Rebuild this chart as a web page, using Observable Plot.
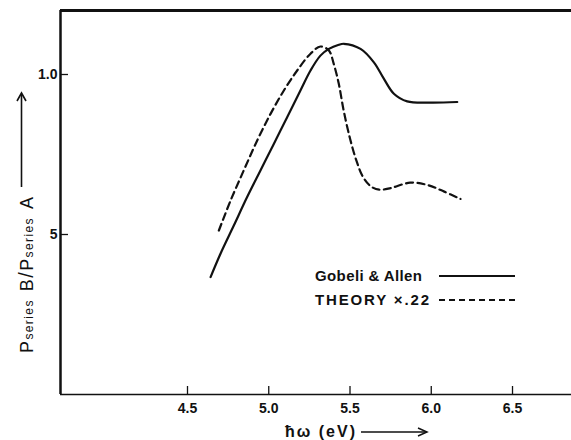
<!DOCTYPE html>
<html>
<head>
<meta charset="utf-8">
<script src="https://cdn.jsdelivr.net/npm/d3@7"></script>
<script src="https://cdn.jsdelivr.net/npm/@observablehq/plot@0.6"></script>
<style>
  html, body { margin: 0; padding: 0; background: #fff; }
  #chart { width: 571px; height: 440px; }
</style>
</head>
<body>
<div id="chart"></div>
<script>
// Gobeli & Allen (measured), solid
const gaX = [4.642, 4.703, 4.785, 4.867, 4.949, 5.031, 5.114, 5.195, 5.257, 5.318, 5.37, 5.431, 5.462, 5.565, 5.647, 5.708, 5.77, 5.852, 5.995, 6.16];
const gaY = [0.367, 0.440, 0.528, 0.617, 0.700, 0.783, 0.867, 0.950, 1.0125, 1.059, 1.080, 1.093, 1.096, 1.080, 1.038, 0.987, 0.940, 0.916, 0.912, 0.914];
// Theory x .22, dashed
const thX = [4.693, 4.765, 4.846, 4.929, 5.011, 5.093, 5.175, 5.257, 5.318, 5.37, 5.40, 5.431, 5.46, 5.50, 5.54, 5.58, 5.63, 5.68, 5.75, 5.87, 5.975, 6.08, 6.18];
const thY = [0.5125, 0.606, 0.700, 0.794, 0.877, 0.950, 1.0125, 1.065, 1.0875, 1.075, 1.033, 0.971, 0.89, 0.80, 0.73, 0.68, 0.65, 0.64, 0.645, 0.662, 0.655, 0.634, 0.611];

const xTicks = [4.5, 5.0, 5.5, 6.0, 6.5];
const xTickLabels = ["4.5", "5.0", "5.5", "6.0", "6.5"];
const yTicks = [1.0, 0.5];
const yTickLabels = ["1.0", "5"];
const xDomain = [3.7185, 6.863];
const yDomain = [0, 1.2];

const seriesNames = ["Gobeli & Allen", "THEORY \u00d7.22"];

const ga = gaX.map((x, i) => ({x, y: gaY[i]}));
const th = thX.map((x, i) => ({x, y: thY[i]}));

const W = 571, H = 440;
const mL = 60, mR = 0, mT = 10, mB = 46;
const innerW = W - mL - mR, innerH = H - mT - mB;

const chart = Plot.plot({
  width: W, height: H,
  marginLeft: mL, marginRight: mR, marginTop: mT, marginBottom: mB,
  style: {fontFamily: "'Liberation Sans', Arial, sans-serif", fontSize: "14px", fontWeight: "bold", color: "#111", background: "#fff"},
  x: {domain: xDomain},
  y: {domain: yDomain},
  marks: [
    Plot.axisX({ticks: xTicks, tickSize: 0, tickPadding: 9, tickFormat: d => xTickLabels[xTicks.indexOf(d)], label: null, fontSize: 14, fontWeight: "bold"}),
    Plot.axisY({ticks: yTicks, tickSize: 0, tickPadding: 3, tickFormat: d => yTickLabels[yTicks.indexOf(d)], label: null, fontSize: 14, fontWeight: "bold"}),
    Plot.tickX(xTicks, {x: d => d, insetTop: innerH - 8, stroke: "#111", strokeWidth: 1.3}),
    Plot.tickY(yTicks, {y: d => d, insetRight: innerW - 8, stroke: "#111", strokeWidth: 1.3}),
    Plot.ruleY([yDomain[0]], {stroke: "#111", strokeWidth: 1.6}),
    Plot.ruleY([yDomain[1]], {stroke: "#111", strokeWidth: 3}),
    Plot.ruleX([xDomain[0]], {stroke: "#111", strokeWidth: 2.5}),
    Plot.line(ga, {x: "x", y: "y", curve: "catmull-rom", stroke: "#111", strokeWidth: 2.2}),
    Plot.line(th, {x: "x", y: "y", curve: "catmull-rom", stroke: "#111", strokeWidth: 2.2, strokeDasharray: "7,4.5"})
  ]
});

document.getElementById("chart").appendChild(chart);

// Annotations: axis titles and legend
const svg = d3.select(chart);
const font = "'Liberation Sans', Arial, sans-serif";

// Y axis title (rotated), with subscripts
const yt = svg.append("text")
  .attr("transform", "translate(33,353) rotate(-90)")
  .attr("text-anchor", "start")
  .attr("font-family", font).attr("font-weight", "normal").attr("fill", "#111")
  .attr("textLength", 156).attr("lengthAdjust", "spacing");
yt.append("tspan").attr("font-size", 18).text("P");
yt.append("tspan").attr("font-size", 12).text("series");
yt.append("tspan").attr("font-size", 18).attr("dx", 8).text("B");
yt.append("tspan").attr("font-size", 20).text("/");
yt.append("tspan").attr("font-size", 18).text("P");
yt.append("tspan").attr("font-size", 12).text("series");
yt.append("tspan").attr("font-size", 18).attr("dx", 8).text("A");

// Y arrow
svg.append("line").attr("x1", 21.5).attr("x2", 21.5).attr("y1", 187).attr("y2", 94)
  .attr("stroke", "#111").attr("stroke-width", 1.6);
svg.append("path").attr("d", "M17,101 L21.5,93 L26,101").attr("fill", "none")
  .attr("stroke", "#111").attr("stroke-width", 1.6);

// X axis title
svg.append("text").attr("x", 285).attr("y", 437)
  .attr("text-anchor", "start")
  .attr("font-family", font).attr("font-size", 16).attr("font-weight", "bold").attr("fill", "#111")
  .attr("textLength", 70).attr("lengthAdjust", "spacing")
  .text("\u0127\u03c9 (eV)");
svg.append("line").attr("x1", 361).attr("x2", 427).attr("y1", 432).attr("y2", 432)
  .attr("stroke", "#111").attr("stroke-width", 1.5);
svg.append("path").attr("d", "M418,428 L427,432 L418,436").attr("fill", "none")
  .attr("stroke", "#111").attr("stroke-width", 1.5);

// Legend
const lg = svg.append("g").attr("text-anchor", "start").attr("font-family", font).attr("font-size", 15).attr("font-weight", "bold").attr("fill", "#111");
lg.append("text").attr("x", 315).attr("y", 281).attr("textLength", 107).attr("lengthAdjust", "spacing").text(seriesNames[0]);
lg.append("text").attr("x", 315).attr("y", 305).attr("textLength", 114).attr("lengthAdjust", "spacing").text(seriesNames[1]);
lg.append("line").attr("x1", 439).attr("x2", 515).attr("y1", 276).attr("y2", 276)
  .attr("stroke", "#111").attr("stroke-width", 1.8);
lg.append("line").attr("x1", 439).attr("x2", 515).attr("y1", 300).attr("y2", 300)
  .attr("stroke", "#111").attr("stroke-width", 1.8).attr("stroke-dasharray", "6,4");
</script>
</body>
</html>
